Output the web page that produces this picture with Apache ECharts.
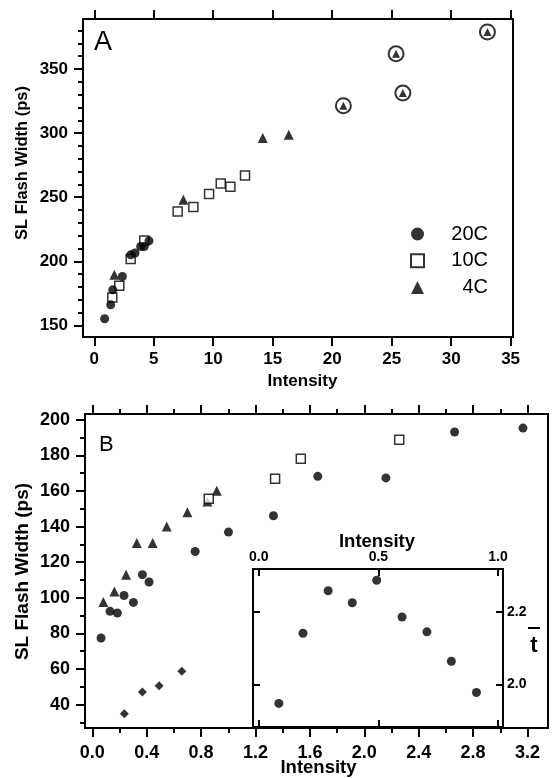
<!DOCTYPE html>
<html><head><meta charset="utf-8">
<script src="https://cdn.jsdelivr.net/npm/echarts@6/dist/echarts.min.js"></script>
<style>
html,body{margin:0;padding:0;background:#fff}
#wrap{position:relative;width:552px;height:778px;overflow:hidden}
#ca{position:absolute;left:0;top:0;width:552px;height:400px}
#cb{position:absolute;left:0;top:400px;width:552px;height:378px}
#ci{position:absolute;left:230px;top:520px;width:322px;height:215px}
#ct{position:absolute;left:0;top:0;width:552px;height:778px;z-index:10;pointer-events:none}
</style>
</head><body><div id="wrap"><div id="ca"></div><div id="cb"></div><div id="ci"></div><div id="ct"></div></div>
<script>
// ---------- Panel A data ----------
const a20X = [0.87, 1.38, 1.55, 2.36, 3.06, 3.42, 3.90, 4.20, 4.60];
const a20Y = [155.2, 166.1, 177.8, 188.2, 205.1, 206.5, 211.6, 211.6, 216.0];
const a10X = [1.51, 2.10, 3.06, 4.20, 7.01, 8.33, 9.65, 10.63, 11.44, 12.67];
const a10Y = [171.8, 181.0, 201.8, 216.3, 238.9, 242.3, 252.5, 260.8, 258.2, 267.0];
const a4X = [1.68, 7.49, 14.16, 16.35];
const a4Y = [189.5, 248.0, 296.2, 298.8];
const a4CircledX = [20.94, 25.37, 25.94, 33.05];
const a4CircledY = [321.4, 361.9, 331.3, 378.9];
const aXTicks = [0, 5, 10, 15, 20, 25, 30, 35];
const aYTicks = [150, 200, 250, 300, 350];
const aYMinor = [160, 170, 180, 190, 210, 220, 230, 240, 260, 270, 280, 290, 310, 320, 330, 340, 360, 370, 380];
const legendNames = ['20C', '10C', '4C'];

// ---------- Panel B data ----------
const bCircleX = [0.064, 0.130, 0.184, 0.233, 0.302, 0.368, 0.417, 0.756, 1.001, 1.332, 1.658, 2.159, 2.664, 3.167];
const bCircleY = [77.4, 92.4, 91.5, 101.3, 97.4, 113.0, 108.9, 126.0, 136.9, 146.1, 168.2, 167.3, 193.1, 195.3];
const bTriX = [0.081, 0.162, 0.248, 0.327, 0.444, 0.547, 0.699, 0.846, 0.915];
const bTriY = [97.6, 103.6, 113.0, 130.8, 130.8, 140.1, 148.0, 154.1, 160.1];
const bSqX = [0.856, 1.344, 1.533, 2.257];
const bSqY = [155.6, 166.9, 178.1, 188.8];
const bDiaX = [0.235, 0.368, 0.491, 0.658];
const bDiaY = [34.9, 47.1, 50.6, 58.7];
const bXTicks = [0, 0.4, 0.8, 1.2, 1.6, 2.0, 2.4, 2.8, 3.2];
const bXMinor = [0.2, 0.6, 1.0, 1.4, 1.8, 2.2, 2.6, 3.0];
const bYTicks = [40, 60, 80, 100, 120, 140, 160, 180, 200];
const bYMinor = [30, 50, 70, 90, 110, 130, 150, 170, 190];

// ---------- Inset data ----------
const insX = [0.084, 0.185, 0.290, 0.391, 0.493, 0.599, 0.703, 0.805, 0.910];
const insY = [1.948, 2.141, 2.258, 2.225, 2.287, 2.186, 2.145, 2.064, 1.978];
const insXTicks = [0, 0.5, 1.0];
const insYTicks = [2.0, 2.2];

const FONT = 'Liberation Sans';
const pairs = (xs, ys) => xs.map((x, i) => [x, ys[i]]);
const fix1 = v => Number(v).toFixed(1);

// axis with labels only (ticks are drawn by the overlay instance)
function labAx(o) {
  return {
    type: 'value', gridIndex: 0, position: o.pos, min: o.min, max: o.max,
    axisLine: { show: false, onZero: false },
    splitLine: { show: false },
    axisTick: { show: false },
    axisLabel: { show: true, customValues: o.ticks, margin: o.margin, color: '#000',
      fontSize: o.fs, fontWeight: 'bold', fontFamily: FONT, formatter: o.fmt || (v => String(v)) }
  };
}
// tick-only axis (overlay instance)
function tickAx(grid, pos, min, max, ticks, len, inside) {
  const t = { show: true, customValues: ticks, length: len, lineStyle: { color: '#000', width: 2 } };
  if (inside) t.inside = true;
  return { type: 'value', gridIndex: grid, position: pos, min: min, max: max,
    axisLine: { show: false, onZero: false }, splitLine: { show: false },
    axisTick: t, axisLabel: { show: false } };
}

const black = { color: '#000' };
const hollow = { color: '#fff', borderColor: '#000', borderWidth: 1.5 };
const boldT = (text, x, y, fs, rot) => ({
  type: 'text', x: x, y: y, rotation: rot || 0, z: 10,
  style: { text: text, fontSize: fs, fontWeight: 'bold', fontFamily: FONT, fill: '#000', align: 'center', verticalAlign: 'middle' }
});
const box = (l, t, w, h) => ({ left: l, top: t, width: w, height: h, show: true, borderColor: '#000', borderWidth: 2 });

// ---------- Panel A ----------
const optA = {
  animation: false,
  backgroundColor: '#fff',
  grid: [box(83, 19, 430, 318)],
  xAxis: [labAx({pos:'bottom', min:-0.95, max:35.2, ticks:aXTicks, margin:14, fs:17})],
  yAxis: [labAx({pos:'left', min:141, max:389, ticks:aYTicks, margin:15, fs:17})],
  legend: {
    data: legendNames, orient: 'vertical', left: 405, top: 219, itemWidth: 13, itemHeight: 13, itemGap: 6.7,
    selectedMode: false,
    formatter: n => '{a|' + n + '}',
    textStyle: { rich: { a: { width: 59, align: 'right', fontSize: 20, fontFamily: FONT, color: '#000', lineHeight: 20 } } }
  },
  series: [
    { name: '10C', type: 'scatter', symbol: 'rect', symbolSize: 9, itemStyle: hollow, data: pairs(a10X, a10Y) },
    { name: '20C', type: 'scatter', symbol: 'circle', symbolSize: 9, itemStyle: black, data: pairs(a20X, a20Y) },
    { name: '4C', type: 'scatter', symbol: 'triangle', symbolSize: 10, itemStyle: black, data: pairs(a4X, a4Y) },
    { name: '4C', type: 'scatter', symbol: 'triangle', symbolSize: 8, itemStyle: black, data: pairs(a4CircledX, a4CircledY) },
    { name: 'ring', type: 'scatter', symbol: 'circle', symbolSize: 15, itemStyle: { color: 'rgba(0,0,0,0)', borderColor: '#000', borderWidth: 2 }, data: pairs(a4CircledX, a4CircledY) }
  ],
  graphic: [
    boldT('SL Flash Width (ps)', 22.5, 163, 16.5, Math.PI / 2),
    boldT('Intensity', 302.5, 381, 17),
    { type: 'text', x: 94, y: 43, z: 10, style: { text: 'A', fontSize: 27, fontFamily: FONT, fill: '#000', align: 'left', verticalAlign: 'middle' } }
  ]
};

// ---------- Panel B (div offset 400) ----------
const optB = {
  animation: false,
  backgroundColor: '#fff',
  grid: [box(85, 14, 463, 314)],
  xAxis: [labAx({pos:'bottom', min:-0.054, max:3.351, ticks:bXTicks, margin:16, fs:18, fmt:fix1})],
  yAxis: [labAx({pos:'left', min:26.9, max:203.2, ticks:bYTicks, margin:15, fs:18})],
  series: [
    { name: 'bTri', type: 'scatter', symbol: 'triangle', symbolSize: 10, itemStyle: black, data: pairs(bTriX, bTriY) },
    { name: 'bSq', type: 'scatter', symbol: 'rect', symbolSize: 9, itemStyle: hollow, data: pairs(bSqX, bSqY) },
    { name: 'bCircle', type: 'scatter', symbol: 'circle', symbolSize: 9, itemStyle: black, data: pairs(bCircleX, bCircleY) },
    { name: 'bDia', type: 'scatter', symbol: 'diamond', symbolSize: 9, itemStyle: black, data: pairs(bDiaX, bDiaY) }
  ],
  graphic: [
    boldT('SL Flash Width (ps)', 22.5, 171.5, 19, Math.PI / 2),
    boldT('Intensity', 318.5, 368, 18.5),
    { type: 'text', x: 99, y: 45, z: 10, style: { text: 'B', fontSize: 22, fontFamily: FONT, fill: '#000', align: 'left', verticalAlign: 'middle' } }
  ]
};

// ---------- Inset (div offset 230, 520) ----------
const optI = {
  animation: false,
  backgroundColor: 'transparent',
  grid: [box(23, 49, 250, 158)],
  xAxis: [labAx({pos:'top', min:-0.024, max:1.021, ticks:insXTicks, margin:5, fs:14, fmt:fix1})],
  yAxis: [labAx({pos:'right', min:1.883, max:2.318, ticks:insYTicks, margin:4, fs:14, fmt:fix1})],
  series: [
    { name: 'inset', type: 'scatter', symbol: 'circle', symbolSize: 9, itemStyle: black, data: pairs(insX, insY) }
  ],
  graphic: [
    boldT('Intensity', 147, 21.5, 18.5),
    boldT('t', 304, 126, 22),
    { type: 'line', z: 10, shape: { x1: 298, y1: 108, x2: 310, y2: 108 }, style: { stroke: '#000', lineWidth: 2 } }
  ]
};

// ---------- Tick overlay (whole page coordinates) ----------
const optT = {
  animation: false,
  backgroundColor: 'transparent',
  grid: [
    { left: 83, top: 19, width: 430, height: 318, show: false },
    { left: 85, top: 414, width: 463, height: 314, show: false },
    { left: 253, top: 569, width: 250, height: 158, show: false }
  ],
  xAxis: [
    tickAx(0, 'bottom', -0.95, 35.2, aXTicks, 9),
    tickAx(0, 'top', -0.95, 35.2, aXTicks, 9),
    tickAx(1, 'bottom', -0.054, 3.351, bXTicks, 9),
    tickAx(1, 'bottom', -0.054, 3.351, bXMinor, 5),
    tickAx(1, 'top', -0.054, 3.351, bXTicks, 9),
    tickAx(1, 'top', -0.054, 3.351, bXMinor, 5),
    tickAx(2, 'top', -0.024, 1.021, insXTicks, 7, true),
    tickAx(2, 'bottom', -0.024, 1.021, insXTicks, 7, true)
  ],
  yAxis: [
    tickAx(0, 'left', 141, 389, aYTicks, 9),
    tickAx(0, 'left', 141, 389, aYMinor, 5),
    tickAx(1, 'left', 26.9, 203.2, bYTicks, 9),
    tickAx(1, 'left', 26.9, 203.2, bYMinor, 5),
    tickAx(2, 'right', 1.883, 2.318, insYTicks, 7, true),
    tickAx(2, 'left', 1.883, 2.318, insYTicks, 7, true)
  ],
  series: []
};

echarts.init(document.getElementById('ca')).setOption(optA);
echarts.init(document.getElementById('cb')).setOption(optB);
echarts.init(document.getElementById('ci')).setOption(optI);
echarts.init(document.getElementById('ct')).setOption(optT);
</script></body></html>
